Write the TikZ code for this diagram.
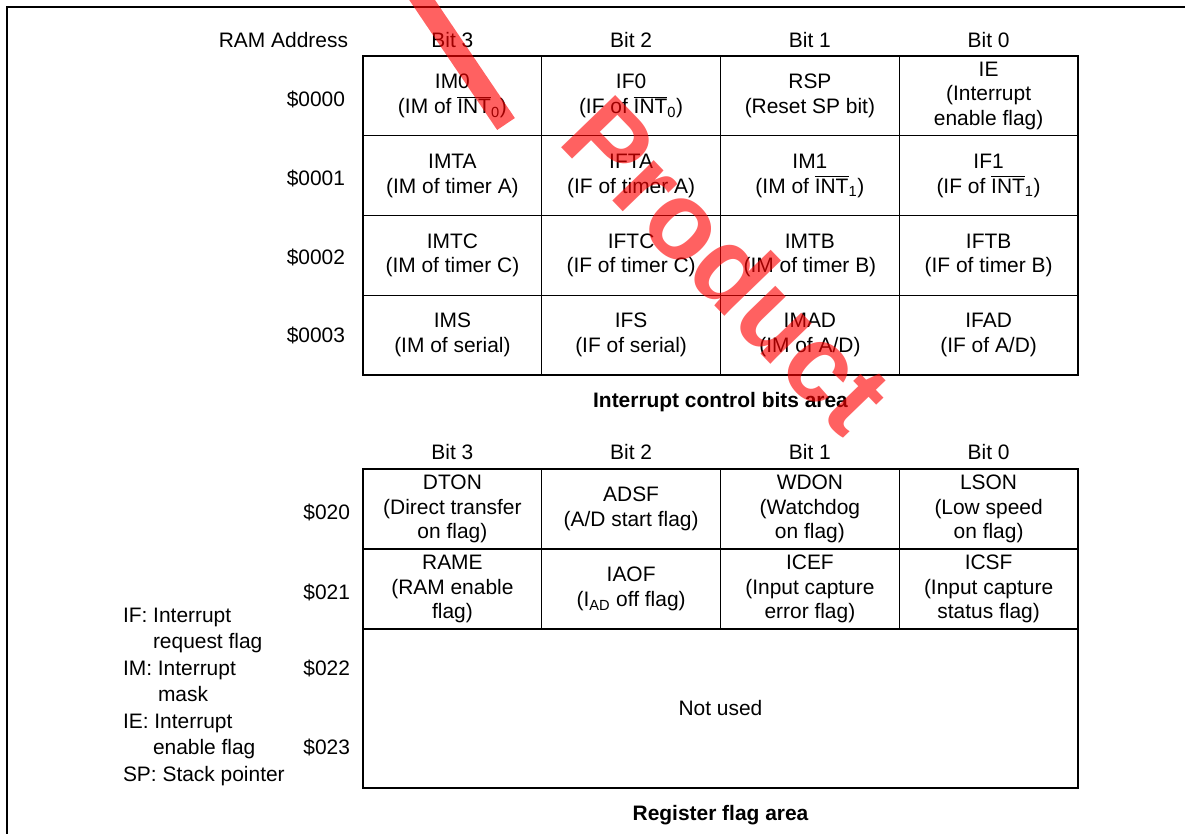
\documentclass[tikz,border=0pt]{standalone}
\usepackage{fontspec}
\setmainfont{Liberation Sans}
\newcommand{\nint}[1]{$\overline{\mbox{INT}}$\textsubscript{#1}}
\begin{document}
\begin{tikzpicture}[x=0.75pt,y=-0.75pt,
  txt/.style={font=\fontsize{15.7}{18.6}\selectfont, inner sep=0pt, outer sep=0pt},
  cell/.style={txt, draw, line width=1pt, align=center,
    minimum width=134.06pt, minimum height=59.8pt},
  cellb/.style={txt, draw, line width=1pt, align=center,
    minimum width=134.06pt, minimum height=60pt},
  hdr/.style={txt, anchor=base},
  addr/.style={txt, anchor=base east},
  lgd/.style={txt, anchor=base west},
  ttl/.style={txt, font=\fontsize{15.7}{18.6}\selectfont\bfseries, anchor=base},
  frameline/.style={line width=1.5pt},
  wm/.style={red, opacity=0.62, text opacity=0.62}
]
\useasboundingbox (0,0) rectangle (1185,834);
\clip (0,0) rectangle (1185,834);

% page frame (top and left edge)
\coordinate (fl) at (7,7);
\coordinate (fr) at (1186,7);
\coordinate (fb) at (7,835);
\draw[frameline] (fr) -- (fl) -- (fb);

% ---------- interrupt control bits area ----------
\node[txt, anchor=base east] (ram) at (348,47.5) {RAM Address};
\node[hdr] (h3) at (452.4,47.5) {Bit 3};
\node[hdr] (h2) at (631.1,47.5) {Bit 2};
\node[hdr] (h1) at (809.9,47.5) {Bit 1};
\node[hdr] (h0) at (988.6,47.5) {Bit 0};

\node[addr] (a0) at (345,107) {\$0000};
\node[addr] (a1) at (345,186) {\$0001};
\node[addr] (a2) at (345,265) {\$0002};
\node[addr] (a3) at (345,343) {\$0003};

\node[cell] (c03) at (452.4,95.9) {IM0\\(IM of \nint{0})};
\node[cell] (c02) at (631.1,95.9) {IF0\\(IF of \nint{0})};
\node[cell] (c01) at (809.9,95.9) {RSP\\(Reset SP bit)};
\node[cell] (c00) at (988.6,95.9) {IE\\(Interrupt\\enable flag)};

\node[cell] (c13) at (452.4,175.6) {IMTA\\(IM of timer A)};
\node[cell] (c12) at (631.1,175.6) {IFTA\\(IF of timer A)};
\node[cell] (c11) at (809.9,175.6) {IM1\\(IM of \nint{1})};
\node[cell] (c10) at (988.6,175.6) {IF1\\(IF of \nint{1})};

\node[cell] (c23) at (452.4,255.4) {IMTC\\(IM of timer C)};
\node[cell] (c22) at (631.1,255.4) {IFTC\\(IF of timer C)};
\node[cell] (c21) at (809.9,255.4) {IMTB\\(IM of timer B)};
\node[cell] (c20) at (988.6,255.4) {IFTB\\(IF of timer B)};

\node[cell] (c33) at (452.4,335.1) {IMS\\(IM of serial)};
\node[cell] (c32) at (631.1,335.1) {IFS\\(IF of serial)};
\node[cell] (c31) at (809.9,335.1) {IMAD\\(IM of A/D)};
\node[cell] (c30) at (988.6,335.1) {IFAD\\(IF of A/D)};

\draw[line width=1.3pt] (c03.north west) rectangle (c30.south east);

\node[ttl] (t1) at (720.5,407) {Interrupt control bits area};

% ---------- register flag area ----------
\node[hdr] (g3) at (452.4,459.5) {Bit 3};
\node[hdr] (g2) at (631.1,459.5) {Bit 2};
\node[hdr] (g1) at (809.9,459.5) {Bit 1};
\node[hdr] (g0) at (988.6,459.5) {Bit 0};

\node[addr] (b0) at (350,519.5) {\$020};
\node[addr] (b1) at (350,599.5) {\$021};
\node[addr] (b2) at (350,675.5) {\$022};
\node[addr] (b3) at (350,754.5) {\$023};

\node[cellb] (r03) at (452.4,509) {DTON\\(Direct transfer\\on flag)};
\node[cellb] (r02) at (631.1,509) {ADSF\\(A/D start flag)};
\node[cellb] (r01) at (809.9,509) {WDON\\(Watchdog\\on flag)};
\node[cellb] (r00) at (988.6,509) {LSON\\(Low speed\\on flag)};

\node[cellb] (r13) at (452.4,589) {RAME\\(RAM enable\\flag)};
\node[cellb] (r12) at (631.1,589) {IAOF\\(I\textsubscript{AD} off flag)};
\node[cellb] (r11) at (809.9,589) {ICEF\\(Input capture\\error flag)};
\node[cellb] (r10) at (988.6,589) {ICSF\\(Input capture\\status flag)};

\node[txt, draw, line width=1pt, minimum width=536.25pt, minimum height=119.25pt]
  (nu) at (720.5,708.5) {Not used};

\draw[line width=1.3pt] (r03.north west) rectangle (nu.south east);

\node[ttl] (t2) at (720.5,820) {Register flag area};

% ---------- legend ----------
\node[lgd] (l1) at (123,622) {IF: Interrupt};
\node[lgd] (l2) at (153,648.5) {request flag};
\node[lgd] (l3) at (123,675) {IM: Interrupt};
\node[lgd] (l4) at (158,701.5) {mask};
\node[lgd] (l5) at (123,728) {IE: Interrupt};
\node[lgd] (l6) at (153,754.5) {enable flag};
\node[lgd] (l7) at (123,781) {SP: Stack pointer};

% ---------- red stamp ----------
\coordinate (ws) at (414,-12);
\coordinate (we) at (506,124);
\draw[wm, line width=16pt] (ws) -- (we);
\node[wm, inner sep=0pt, rotate=-46,
      font=\fontsize{82}{82}\selectfont\bfseries] (stamp) at (728,264) {Product};
\end{tikzpicture}
\end{document}
